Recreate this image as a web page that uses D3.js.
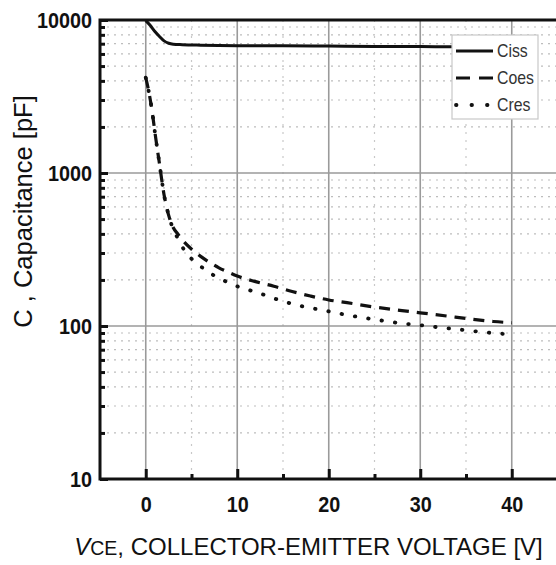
<!DOCTYPE html>
<html>
<head>
<meta charset="utf-8">
<script src="https://cdn.jsdelivr.net/npm/d3@7/dist/d3.min.js"></script>
<style>
  html, body { margin: 0; padding: 0; background: #fff; }
  svg { display: block; }
</style>
</head>
<body>
<svg id="chart" width="556" height="565"></svg>
<script>
// ---- data ----
const seriesNames = ["Ciss", "Coes", "Cres"];
const cissV = [0, 0.5, 1, 1.5, 2, 2.5, 3, 4, 6, 10, 15, 20, 25, 30, 35, 40];
const cissC = [9900, 9200, 8400, 7800, 7300, 7050, 6950, 6900, 6850, 6800, 6780, 6750, 6720, 6700, 6680, 6650];
const coesV = [0, 0.25, 0.5, 0.75, 1, 1.25, 1.5, 1.75, 2, 2.25, 2.5, 3, 3.5, 4, 5, 6, 7, 8, 9, 10, 12, 14, 16, 18, 20, 22, 25, 28, 30, 33, 35, 38, 40];
const coesC = [4200, 3600, 3000, 2400, 1850, 1450, 1150, 900, 720, 610, 530, 440, 400, 365, 318, 285, 260, 240, 225, 212, 195, 182, 168, 157, 148, 142, 133, 126, 122, 116, 112, 107, 105];
const cresV = [0, 0.25, 0.5, 0.75, 1, 1.25, 1.5, 1.75, 2, 2.25, 2.5, 3, 3.5, 4.4, 5, 5.9, 7.4, 8.9, 10.4, 12, 15, 17, 19.6, 22, 25.6, 28, 30.2, 32, 34.9, 37, 39.5];
const cresC = [4200, 3600, 3000, 2400, 1850, 1450, 1150, 900, 720, 610, 530, 430, 375, 301, 275, 248, 215, 194, 178, 167, 145, 135, 126, 118, 109, 104, 101, 98, 94, 91, 88.5];
const xTickValues = [0, 10, 20, 30, 40];
const xMinorTicks = [5, 15, 25, 35];
const yTickValues = [10, 100, 1000, 10000];
const yTickLabels = ["10", "100", "1000", "10000"];
const xTitleParts = ["V", "CE", ", COLLECTOR-EMITTER VOLTAGE [V]"];
const yTitle = "C , Capacitance [pF]";

// ---- layout ----
const svg = d3.select("#chart");
const L = 100, R = 557.5, T = 20, B = 479;
const x = d3.scaleLinear().domain([-5, 45]).range([L, R]);
const y = d3.scaleLog().domain([10, 10000]).range([B, T]);
const FONT = "'Liberation Sans', Arial, sans-serif";
const SX = 0.9; // horizontal condensation of tick labels

const yMinor = [];
[10, 100, 1000].forEach(d => { for (let k = 2; k <= 9; k++) yMinor.push(d * k); });

const g = svg.append("g");

// minor grid (dotted)
g.append("g").selectAll("line").data(yMinor).join("line")
  .attr("x1", L).attr("x2", R).attr("y1", d => y(d)).attr("y2", d => y(d))
  .attr("stroke", "#bdbdbd").attr("stroke-width", 1.2).attr("stroke-dasharray", "2,5");
g.append("g").selectAll("line").data(xMinorTicks).join("line")
  .attr("y1", T).attr("y2", B).attr("x1", d => x(d)).attr("x2", d => x(d))
  .attr("stroke", "#c8c8c8").attr("stroke-width", 1.2).attr("stroke-dasharray", "2,6");

// major grid
g.append("g").selectAll("line").data([100, 1000]).join("line")
  .attr("x1", L).attr("x2", R).attr("y1", d => y(d)).attr("y2", d => y(d))
  .attr("stroke", "#9a9a9a").attr("stroke-width", 1.6);
g.append("g").selectAll("line").data(xTickValues).join("line")
  .attr("y1", T).attr("y2", B).attr("x1", d => x(d)).attr("x2", d => x(d))
  .attr("stroke", "#9a9a9a").attr("stroke-width", 1.6);

// curves
const line = d3.line().x(d => x(d[0])).y(d => y(d[1])).curve(d3.curveMonotoneX);
const zip = (a, b) => a.map((v, i) => [v, b[i]]);
const styles = {
  Ciss: { dash: null, legDash: null, width: 3, cap: "butt" },
  Coes: { dash: "11,8", legDash: "14,9", width: 3.2, cap: "butt" },
  Cres: { dash: "0.5,13", legDash: "0.5,15", width: 3.8, cap: "round" }
};
const seriesData = { Ciss: zip(cissV, cissC), Coes: zip(coesV, coesC), Cres: zip(cresV, cresC) };
seriesNames.forEach(n => {
  const s = styles[n];
  g.append("path").datum(seriesData[n])
    .attr("d", line).attr("fill", "none").attr("stroke", "#111")
    .attr("stroke-width", s.width).attr("stroke-linecap", s.cap)
    .attr("stroke-dasharray", s.dash);
});

// axes
const yAxis = d3.axisLeft(y).tickValues(yTickValues)
  .tickFormat((d, i) => yTickLabels[i]).tickSizeInner(-8).tickSizeOuter(0).tickPadding(8);
const ya = svg.append("g").attr("transform", `translate(${L},0)`).call(yAxis);
ya.select(".domain").remove();
ya.selectAll("line").attr("stroke", "#111").attr("stroke-width", 3);
ya.selectAll("text").attr("font-family", FONT)
  .attr("font-weight", "bold").attr("font-size", 22).attr("fill", "#111")
  .attr("x", -8 / SX).attr("transform", `scale(${SX},1)`);

const yMinorAxis = d3.axisLeft(y).tickValues(yMinor).tickFormat("").tickSizeInner(-5).tickSizeOuter(0);
const yma = svg.append("g").attr("transform", `translate(${L},0)`).call(yMinorAxis);
yma.select(".domain").remove();
yma.selectAll("line").attr("stroke", "#111").attr("stroke-width", 3);

const xAxis = d3.axisBottom(x).tickValues(xTickValues).tickFormat(d3.format("d"))
  .tickSizeInner(-10).tickSizeOuter(0).tickPadding(17);
const xa = svg.append("g").attr("transform", `translate(0,${B})`).call(xAxis);
xa.select(".domain").remove();
xa.selectAll("line").attr("stroke", "#111").attr("stroke-width", 3);
xa.selectAll("text").attr("font-family", FONT)
  .attr("font-weight", "bold").attr("font-size", 22).attr("fill", "#111")
  .attr("transform", `scale(${SX},1)`);

const xMinorAxis = d3.axisBottom(x).tickValues(xMinorTicks).tickFormat("").tickSizeInner(-5).tickSizeOuter(0);
const xma = svg.append("g").attr("transform", `translate(0,${B})`).call(xMinorAxis);
xma.select(".domain").remove();
xma.selectAll("line").attr("stroke", "#111").attr("stroke-width", 3);

// frame
svg.append("rect").attr("x", L).attr("y", T).attr("width", R - L).attr("height", B - T)
  .attr("fill", "none").attr("stroke", "#111").attr("stroke-width", 3);

// legend
const lg = svg.append("g").attr("transform", "translate(452,35)");
lg.append("rect").attr("width", 86).attr("height", 84).attr("fill", "#fff")
  .attr("stroke", "#c8c8c8").attr("stroke-width", 1.2);
seriesNames.forEach((n, i) => {
  const s = styles[n];
  const yy = 16 + i * 27;
  lg.append("line").attr("x1", 4).attr("x2", 41).attr("y1", yy).attr("y2", yy)
    .attr("stroke", "#111").attr("stroke-width", s.width).attr("stroke-linecap", s.cap)
    .attr("stroke-dasharray", s.legDash);
  lg.append("text").attr("x", 45 / 0.88).attr("y", yy + 6.5).text(n)
    .attr("transform", "scale(0.88,1)")
    .attr("font-family", FONT).attr("font-size", 18)
    .attr("fill", "#333");
});

// titles
const xt = svg.append("text").attr("x", 308.5).attr("y", 555).attr("text-anchor", "middle")
  .attr("font-family", FONT).attr("font-size", 24).attr("fill", "#111");
xt.append("tspan").attr("font-style", "italic").text(xTitleParts[0]);
xt.append("tspan").attr("font-size", 19.5).text(xTitleParts[1]);
xt.append("tspan").text(xTitleParts[2]);

svg.append("text").attr("transform", "translate(32,211.5) rotate(-90)").attr("text-anchor", "middle")
  .attr("font-family", FONT).attr("font-size", 25.5).attr("fill", "#111")
  .text(yTitle);
</script>
</body>
</html>
